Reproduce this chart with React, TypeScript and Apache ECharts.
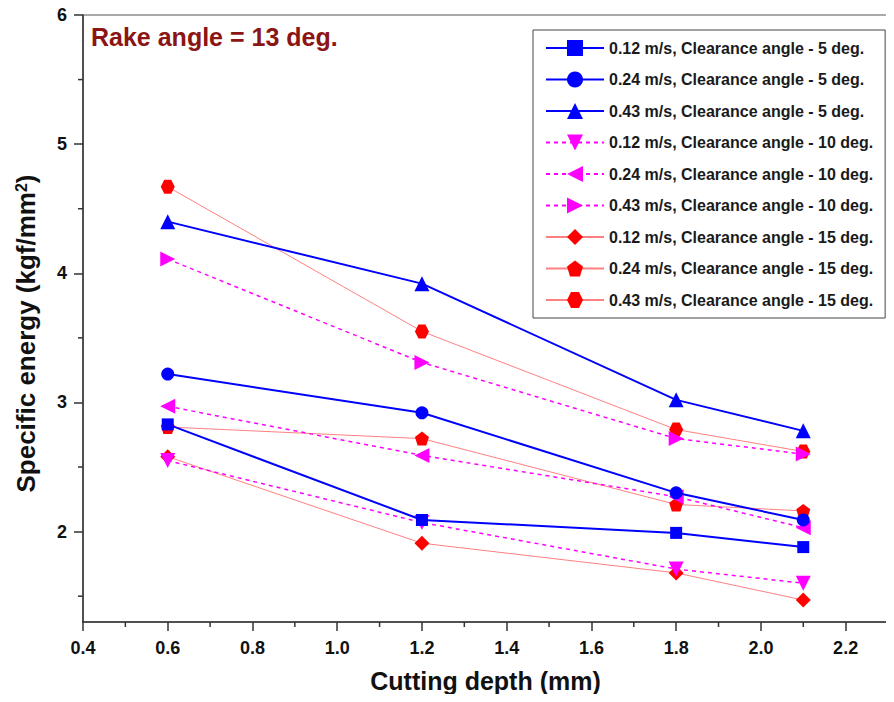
import React, { useEffect, useRef } from "react";
import * as echarts from "echarts";

const depth = [0.6, 1.2, 1.8, 2.1];
const v012_5 = [2.83, 2.09, 1.99, 1.88];
const v024_5 = [3.22, 2.92, 2.3, 2.09];
const v043_5 = [4.4, 3.92, 3.02, 2.78];
const v012_10 = [2.55, 2.07, 1.71, 1.6];
const v024_10 = [2.97, 2.59, 2.27, 2.03];
const v043_10 = [4.11, 3.31, 2.72, 2.6];
const v012_15 = [2.58, 1.91, 1.68, 1.47];
const v024_15 = [2.81, 2.72, 2.21, 2.16];
const v043_15 = [4.67, 3.55, 2.79, 2.62];

const names = [
  "0.12 m/s, Clearance angle - 5 deg.",
  "0.24 m/s, Clearance angle - 5 deg.",
  "0.43 m/s, Clearance angle - 5 deg.",
  "0.12 m/s, Clearance angle - 10 deg.",
  "0.24 m/s, Clearance angle - 10 deg.",
  "0.43 m/s, Clearance angle - 10 deg.",
  "0.12 m/s, Clearance angle - 15 deg.",
  "0.24 m/s, Clearance angle - 15 deg.",
  "0.43 m/s, Clearance angle - 15 deg.",
];
const values = [v012_5, v024_5, v043_5, v012_10, v024_10, v043_10, v012_15, v024_15, v043_15];

const xMajor = [0.4, 0.6, 0.8, 1.0, 1.2, 1.4, 1.6, 1.8, 2.0, 2.2];
const xMinor = [0.5, 0.7, 0.9, 1.1, 1.3, 1.5, 1.7, 1.9, 2.1, 2.3];
const yMajor = [2, 3, 4, 5, 6];
const yMinor = [1.5, 2.5, 3.5, 4.5, 5.5];

const SYM = {
  square: "rect",
  circle: "circle",
  up: "triangle",
  down: "path://M0,0 L100,0 L50,87 Z",
  left: "path://M0,50 L87,0 L87,100 Z",
  right: "path://M0,0 L87,50 L0,100 Z",
  diamond: "path://M50,0 L100,50 L50,100 L0,50 Z",
  pentagon: "path://M50,0 L100,36 L81,95 L19,95 L0,36 Z",
  hexagon: "path://M0,433 L250,0 L750,0 L1000,433 L750,866 L250,866 Z",
};

const symbols = [SYM.square, SYM.circle, SYM.up, SYM.down, SYM.left, SYM.right, SYM.diamond, SYM.pentagon, SYM.hexagon];
const sizes = [12, 13, 15, 15, 15, 15, 15, 14, 14];

const FONT = "'Liberation Sans', Arial, sans-serif";
const AXIS_COLOR = "#333";

export default function App() {
  const ref = useRef<HTMLDivElement>(null);
  useEffect(() => {
    if (!ref.current) return;
    const chart = echarts.init(ref.current, undefined, { renderer: "svg" });
    const series: any[] = names.map((n, i) => {
      const group = Math.floor(i / 3);
      const color = group === 0 ? "#0000ff" : group === 1 ? "#ff00ff" : "#ff0000";
      const lineStyle =
        group === 0
          ? { color: "#0000ff", width: 2, type: "solid" }
          : group === 1
          ? { color: "#ff00ff", width: 1.5, type: [4, 4] }
          : { color: "#ff8080", width: 1, type: "solid" };
      return {
        name: n,
        type: "line",
        data: depth.map((d, k) => [d, values[i][k]]),
        symbol: symbols[i],
        symbolSize: sizes[i],
        showSymbol: true,
        itemStyle: { color, borderWidth: 0 },
        lineStyle,
        z: 2 + (8 - i),
      };
    });

    const title = {
      type: "text",
      left: 91,
      top: 24,
      style: {
        text: "Rake angle = 13 deg.",
        fontFamily: FONT,
        fontWeight: "bold",
        fontSize: 25,
        fill: "#8b1414",
      },
    };

    chart.setOption({
      animation: false,
      backgroundColor: "#ffffff",
      grid: {
        left: 83,
        top: 15,
        right: 6,
        bottom: 80,
        show: true,
        borderColor: "#555",
        borderWidth: 1,
        backgroundColor: "transparent",
      },
      legend: {
        orient: "vertical",
        left: 533,
        top: 30,
        padding: [10, 12, 10, 12],
        itemWidth: 58,
        itemHeight: 20,
        itemGap: 15.5,
        borderColor: "#444",
        borderWidth: 1,
        selectedMode: false,
        textStyle: { fontFamily: FONT, fontWeight: "bold", fontSize: 16, color: "#1a1a1a" },
        data: names,
      },
      xAxis: {
        type: "value",
        min: 0.4,
        max: 2.3,
        interval: 0.1,
        name: "Cutting depth (mm)",
        nameLocation: "middle",
        nameGap: 46,
        nameTextStyle: { fontFamily: FONT, fontWeight: "bold", fontSize: 25, color: "#111" },
        axisLine: { lineStyle: { color: AXIS_COLOR, width: 1.5 } },
        axisTick: { show: true, customValues: xMajor, length: 9, lineStyle: { color: AXIS_COLOR, width: 1.5 } },
        axisLabel: {
          customValues: xMajor,
          formatter: (v: number) => v.toFixed(1),
          margin: 17,
          fontFamily: FONT,
          fontWeight: "bold",
          fontSize: 18,
          color: "#111",
        },
        splitLine: { show: false },
      },
      yAxis: {
        type: "value",
        min: 1.3,
        max: 6,
        name: "Specific energy (kgf/mm{sup|2})",
        nameLocation: "middle",
        nameGap: 44,
        nameTextStyle: {
          fontFamily: FONT,
          fontWeight: "bold",
          fontSize: 26,
          color: "#111",
          padding: [0, 30, 0, 0],
          rich: {
            sup: { fontFamily: FONT, fontWeight: "bold", fontSize: 16, color: "#111", verticalAlign: "top", padding: [0, 0, 10, 0] },
          },
        },
        axisLine: { lineStyle: { color: AXIS_COLOR, width: 1.5 } },
        axisTick: { show: true, customValues: yMajor, length: 9, lineStyle: { color: AXIS_COLOR, width: 1.5 } },
        axisLabel: {
          customValues: yMajor,
          margin: 16,
          fontFamily: FONT,
          fontWeight: "bold",
          fontSize: 18,
          color: "#111",
        },
        splitLine: { show: false },
      },
      graphic: [title],
      series,
    });

    // minor ticks positioned through the axes' own scales
    const minorTicks: any[] = [];
    const y0 = chart.convertToPixel({ yAxisIndex: 0 }, 1.3) as number;
    const x0 = chart.convertToPixel({ xAxisIndex: 0 }, 0.4) as number;
    xMinor.forEach((v) => {
      const px = chart.convertToPixel({ xAxisIndex: 0 }, v) as number;
      minorTicks.push({
        type: "line",
        silent: true,
        shape: { x1: px, y1: y0, x2: px, y2: y0 + 5 },
        style: { stroke: AXIS_COLOR, lineWidth: 1.5 },
      });
    });
    yMinor.forEach((v) => {
      const py = chart.convertToPixel({ yAxisIndex: 0 }, v) as number;
      minorTicks.push({
        type: "line",
        silent: true,
        shape: { x1: x0, y1: py, x2: x0 - 5, y2: py },
        style: { stroke: AXIS_COLOR, lineWidth: 1.5 },
      });
    });
    chart.setOption({ graphic: [title, ...minorTicks] });

    return () => chart.dispose();
  }, []);
  return <div ref={ref} style={{ width: 894, height: 702, margin: -8 }} />;
}
